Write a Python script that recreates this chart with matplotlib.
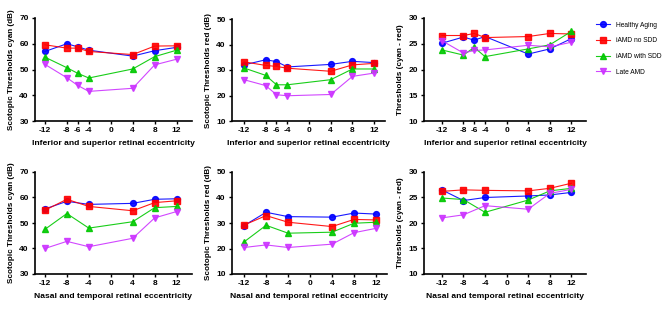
import numpy as np
import matplotlib
matplotlib.use('Agg')
import matplotlib.pyplot as plt

plt.rcParams['font.family'] = ['Liberation Sans', 'DejaVu Sans']
plt.rcParams['axes.unicode_minus'] = False

# eccentricities
ecc_top = [-12, -8, -6, -4, 4, 8, 12]
ecc_bot = [-12, -8, -4, 4, 8, 12]
ticks_top = [-12, -8, -6, -4, 0, 4, 8, 12]
ticks_bot = [-12, -8, -4, 0, 4, 8, 12]

groups = ['Healthy Aging', 'iAMD no SDD', 'iAMD with SDD', 'Late AMD']

# inferior / superior - cyan
cyan_is_healthy = [57.0, 60.0, 58.8, 57.5, 55.2, 57.3, 58.6]
cyan_is_nosdd = [59.6, 58.3, 58.3, 57.0, 55.8, 59.1, 59.2]
cyan_is_sdd = [54.8, 50.7, 48.5, 46.7, 50.2, 55.0, 57.5]
cyan_is_late = [52.0, 46.8, 43.8, 41.5, 42.7, 51.8, 54.0]

# inferior / superior - red
red_is_healthy = [32.0, 34.0, 33.3, 31.2, 32.2, 33.4, 32.9]
red_is_nosdd = [33.2, 31.8, 31.4, 30.7, 29.5, 32.0, 32.6]
red_is_sdd = [30.8, 27.9, 24.2, 24.2, 26.2, 30.4, 30.4]
red_is_late = [26.2, 23.9, 20.3, 19.9, 20.4, 27.5, 28.8]

# inferior / superior - cyan minus red
diff_is_healthy = [25.1, 26.3, 25.7, 26.4, 23.0, 24.0, 26.0]
diff_is_nosdd = [26.6, 26.6, 27.0, 26.2, 26.4, 27.0, 26.9]
diff_is_sdd = [23.8, 22.8, 24.3, 22.5, 24.0, 24.8, 27.4]
diff_is_late = [25.6, 23.2, 23.7, 23.8, 24.7, 24.4, 25.3]

# nasal / temporal - cyan
cyan_nt_healthy = [55.5, 58.5, 57.3, 57.7, 59.3, 59.5]
cyan_nt_nosdd = [55.0, 59.3, 56.5, 54.8, 58.0, 58.7]
cyan_nt_sdd = [47.5, 53.7, 48.0, 50.5, 56.0, 56.5]
cyan_nt_late = [40.0, 42.8, 40.7, 44.0, 52.0, 54.5]

# nasal / temporal - red
red_nt_healthy = [29.0, 34.2, 32.5, 32.3, 33.9, 33.5]
red_nt_nosdd = [29.2, 32.9, 30.3, 28.6, 31.4, 31.2]
red_nt_sdd = [22.6, 29.1, 26.0, 26.4, 29.9, 30.3]
red_nt_late = [20.4, 21.4, 20.4, 21.7, 26.2, 27.9]

# nasal / temporal - cyan minus red
diff_nt_healthy = [26.5, 24.4, 25.0, 25.3, 25.5, 26.0]
diff_nt_nosdd = [26.2, 26.5, 26.4, 26.3, 26.8, 27.8]
diff_nt_sdd = [24.9, 24.6, 22.1, 24.5, 26.3, 26.8]
diff_nt_late = [21.0, 21.6, 23.4, 22.7, 25.8, 26.6]

colors = ['#0000ff', '#ff0000', '#00c800', '#cc33ff']
markers = ['o', 's', '^', 'v']

fig = plt.figure(figsize=(6.68, 3.10), dpi=100)

W, H = 668.0, 310.0
def axpos(x0, x1, y0, y1):
    return [x0 / W, 1 - y1 / H, (x1 - x0) / W, (y1 - y0) / H]

panels = [
    (axpos(35, 192, 18, 121), (-13.8, 14.8), ecc_top, ticks_top,
     [cyan_is_healthy, cyan_is_nosdd, cyan_is_sdd, cyan_is_late],
     (30, 70), [30, 40, 50, 60, 70], 'Scotopic Thresholds cyan (dB)',
     'Inferior and superior retinal eccentricity'),
    (axpos(232, 385, 19, 121), (-14.2, 14.0), ecc_top, ticks_top,
     [red_is_healthy, red_is_nosdd, red_is_sdd, red_is_late],
     (10, 50), [10, 20, 30, 40, 50], 'Scotopic Thresholds red (dB)',
     'Inferior and superior retinal eccentricity'),
    (axpos(424, 586, 18, 121), (-15.3, 14.7), ecc_top, ticks_top,
     [diff_is_healthy, diff_is_nosdd, diff_is_sdd, diff_is_late],
     (10, 30), [10, 15, 20, 25, 30], 'Thresholds (cyan - red)',
     'Inferior and superior retinal eccentricity'),
    (axpos(35, 192, 172, 274), (-13.8, 14.8), ecc_bot, ticks_bot,
     [cyan_nt_healthy, cyan_nt_nosdd, cyan_nt_sdd, cyan_nt_late],
     (30, 70), [30, 40, 50, 60, 70], 'Scotopic Thresholds cyan (dB)',
     'Nasal and temporal retinal eccentricity'),
    (axpos(232, 387, 172, 274), (-14.2, 14.0), ecc_bot, ticks_bot,
     [red_nt_healthy, red_nt_nosdd, red_nt_sdd, red_nt_late],
     (10, 50), [10, 20, 30, 40, 50], 'Scotopic Thresholds red (dB)',
     'Nasal and temporal retinal eccentricity'),
    (axpos(424, 586, 172, 274), (-15.3, 14.7), ecc_bot, ticks_bot,
     [diff_nt_healthy, diff_nt_nosdd, diff_nt_sdd, diff_nt_late],
     (10, 30), [10, 15, 20, 25, 30], 'Thresholds (cyan - red)',
     'Nasal and temporal retinal eccentricity'),
]

handles = []
for n, (pos, xl, xs, xt, series, yl, yt, ylab, xlab) in enumerate(panels):
    ax = fig.add_axes(pos)
    for i, ys in enumerate(series):
        h, = ax.plot(xs, ys, color=colors[i], marker=markers[i], markersize=4.2,
                     linewidth=0.8, alpha=0.9, label=groups[i])
        if n == 2:
            handles.append(h)
    ax.set_xlim(xl)
    ax.set_ylim(yl)
    ax.set_xticks(xt)
    ax.set_yticks(yt)
    ax.spines['top'].set_visible(False)
    ax.spines['right'].set_visible(False)
    ax.spines['left'].set_linewidth(1.2)
    ax.spines['bottom'].set_linewidth(1.2)
    ax.tick_params(width=1.0, length=2.5, labelsize=6, pad=2)
    for lab in ax.get_xticklabels() + ax.get_yticklabels():
        lab.set_fontweight('bold')
    ax.set_ylabel(ylab, fontsize=5.9, fontweight='bold', labelpad=3)
    ax.set_xlabel(xlab, fontsize=6.1, fontweight='bold', labelpad=4)

fig.legend(handles=handles, loc='upper left', bbox_to_anchor=(593 / W, 1 - 19 / H),
           frameon=False, fontsize=4.8, handlelength=2.2, labelspacing=1.3,
           handletextpad=0.8, borderaxespad=0)

plt.savefig('out.png', dpi=100)
